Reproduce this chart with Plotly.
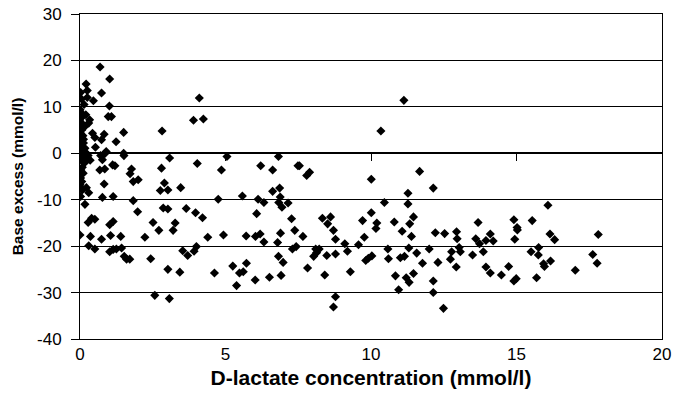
import plotly.graph_objects as go

# D-lactate concentration (mmol/l)
dlactate = [
    0.02, 0.05, 0.14, 0.0, 0.05, 0.08, 0.02, 0.0, 0.1, 0.04, 0.17, 0.06, 0.0, 0.1, 0.04, 0.12, 0.0, 0.17, 0.06, 0.0,
    0.22, 0.1, 0.26, 0.04, 0.17, 0.08, 0.03, 0.11, 0.02, 0.06, 0.0, 0.04, 0.08, 0.02, 0.22, 0.17, 0.0,
    0.21, 0.25, 0.25, 0.2, 0.3, 0.12, 0.28, 0.35, 0.3,
    0.69, 1.02, 0.74, 0.46, 1.01, 0.33, 0.97, 1.08, 1.5, 2.82, 0.43, 0.83, 0.51, 0.74, 1.24, 0.53, 0.90, 1.5,
    0.71, 0.85, 0.77, 1.51, 1.12, 1.2, 0.68, 0.85, 1.77, 1.72, 1.83, 2.0, 2.8, 0.83, 2.76, 0.77, 1.14, 1.83, 1.98, 2.86,
    0.28, 0.40, 0.51, 1.02, 1.14, 2.51, 2.71, 0.36, 0.74, 1.05, 1.40, 2.23, 0.30, 0.51, 1.02, 1.14, 1.25, 1.43, 1.52, 1.6,
    1.71, 2.43, 2.57,
    4.10, 3.90, 4.24, 3.08, 4.03, 5.05, 4.86, 6.21, 6.62, 6.82, 7.49, 2.9, 3.02, 3.46, 4.75, 5.58, 6.12, 6.32, 6.62, 6.86,
    6.88, 6.83, 6.94, 7.15, 3.02, 3.65, 3.97, 4.21, 3.27, 3.20, 6.07, 7.27, 7.38, 4.39, 4.93, 5.71, 6.03, 6.19, 6.32, 6.79,
    6.89, 7.30, 7.43, 3.53, 3.70, 3.92, 4.0, 3.02, 3.43, 4.62, 5.25, 5.48, 5.61, 5.72, 5.38, 6.02, 6.51, 6.82, 6.98, 6.91,
    3.07,
    11.13, 10.34, 7.54, 7.79, 7.89, 10.01, 11.67, 7.66, 8.33, 8.61, 8.51, 8.71, 8.78, 9.10, 9.19, 9.57, 9.77, 9.71, 10.01,
    10.20, 10.17, 10.46, 8.10, 8.22, 8.03, 8.13, 8.48, 8.78, 7.82, 8.41, 9.29, 8.78, 8.71, 9.82, 9.91, 10.03, 10.58, 10.60,
    10.80, 11.07, 11.27, 11.27, 11.46, 11.33, 11.39, 11.30, 11.01, 11.15, 11.57, 11.77, 10.84, 10.95, 11.21, 11.31, 11.46,
    12.14, 12.21, 12.53, 12.0, 12.30, 12.14, 12.14, 12.49, 12.73, 12.77, 12.93, 12.94, 12.96, 13.03, 13.07, 13.49, 13.68,
    13.60, 13.73, 13.86, 13.95, 14.10, 14.20, 13.95, 14.10, 14.48, 14.73, 14.91, 15.02, 15.03, 14.94, 14.91, 14.99, 15.54,
    16.08, 16.15, 16.31, 15.50, 15.76, 15.75, 15.93, 15.96, 16.17, 15.69,
    17.81, 17.62, 17.77, 17.02,
]

# Base excess (mmol/l)
base_excess = [
    13.1, 11.7, 10.5, 9.4, 8.7, 8.0, 7.5, 6.9, 6.2, 5.8, 5.8, 5.0, 4.4, 3.8, 2.9, 2.2, 1.5, 1.1, 0.8, 0.0,
    0.0, -0.5, -1.0, -1.5, -2.0, -3.0, -3.6, -4.3, -5.3, -6.1, -6.8, -7.5, -7.9, -9.3, -7.4, -11.0, -17.6,
    14.9, 13.5, 12.0, 8.3, 6.5, 3.0, -0.5, -1.5, -8.5,
    18.6, 16.0, 13.0, 11.3, 10.2, 7.2, 7.9, 7.9, 4.5, 4.8, 4.3, 4.1, 3.4, 2.9, 2.5, 1.3, 0.4, 0.0,
    -0.5, -0.1, -1.4, -0.5, -2.5, -2.7, -3.6, -3.4, -3.4, -4.4, -6.1, -5.7, -3.2, -6.6, -8.0, -9.5, -9.3, -10.2, -12.6, -11.8,
    -14.9, -14.0, -14.2, -15.4, -14.7, -14.9, -16.6, -17.9, -18.5, -17.7, -17.9, -18.1, -19.9, -20.6, -21.2, -20.7, -20.6, -20.4, -22.2, -22.8,
    -22.8, -22.7, -30.6,
    11.9, 7.1, 7.4, -1.0, -2.2, -0.7, -3.6, -2.7, -3.6, -0.7, -2.7, -6.4, -7.9, -7.4, -9.9, -9.2, -9.9, -10.6, -8.2, -7.5,
    -9.4, -10.6, -11.6, -10.7, -12.0, -11.9, -12.8, -13.9, -15.0, -16.6, -13.0, -14.1, -16.6, -18.1, -17.6, -17.8, -17.9, -17.4, -19.1, -19.2,
    -17.2, -20.6, -20.1, -21.0, -22.0, -21.1, -20.1, -25.0, -25.6, -25.8, -24.3, -25.8, -25.5, -23.7, -28.5, -27.3, -26.7, -22.2, -23.5, -26.3,
    -31.3,
    11.4, 4.8, -2.7, -4.8, -4.1, -5.6, -3.9, -17.9, -14.0, -13.7, -15.2, -16.6, -18.5, -19.5, -21.1, -19.7, -18.1, -14.5, -12.8,
    -15.0, -16.2, -10.6, -20.6, -20.6, -22.2, -21.4, -22.0, -21.7, -24.7, -26.2, -25.5, -30.9, -33.1, -23.1, -22.6, -22.1, -20.6, -22.7,
    -14.8, -16.8, -8.6, -10.9, -13.7, -15.2, -17.9, -20.4, -22.5, -22.2, -21.5, -23.7, -26.4, -29.4, -26.8, -27.8, -25.9,
    -7.5, -17.1, -17.3, -20.6, -23.5, -27.5, -30.0, -33.4, -22.8, -21.2, -24.5, -16.9, -18.4, -20.3, -21.2, -21.9, -14.9,
    -18.4, -19.5, -21.2, -18.8, -17.4, -18.9, -24.5, -25.8, -26.2, -24.4, -14.3, -16.0, -16.5, -18.5, -27.5, -27.0, -14.5,
    -11.2, -17.4, -18.6, -21.2, -20.3, -21.9, -23.8, -24.4, -23.2, -26.8,
    -17.5, -21.8, -23.7, -25.2,
]

x_ticks = [0, 5, 10, 15, 20]
x_tick_labels = ["0", "5", "10", "15", "20"]
y_ticks = [-40, -30, -20, -10, 0, 10, 20, 30]
y_tick_labels = ["-40", "-30", "-20", "-10", "0", "10", "20", "30"]

FONT = "Liberation Sans, Arial, sans-serif"

fig = go.Figure()
fig.add_trace(go.Scatter(
    x=dlactate, y=base_excess, mode="markers",
    marker=dict(symbol="diamond", size=7, color="black", line=dict(width=0)),
    showlegend=False, hoverinfo="skip",
))
# helper (empty) trace for the tick marks drawn on the y = 0 line
fig.add_trace(go.Scatter(x=[None], y=[None], xaxis="x2", showlegend=False, hoverinfo="skip"))

fig.update_layout(
    width=674, height=393,
    margin=dict(l=80, r=12, t=14, b=54),
    paper_bgcolor="white", plot_bgcolor="white",
    font=dict(family=FONT, color="black"),
    xaxis=dict(
        range=[0, 20], tickvals=x_ticks, ticktext=x_tick_labels, ticks="", showgrid=False, zeroline=False,
        showline=True, linecolor="black", linewidth=1, mirror=True, automargin=False,
        tickfont=dict(size=17), ticklabelstandoff=0,
        title=dict(text="<b>D-lactate concentration (mmol/l)</b>", font=dict(size=21), standoff=6),
    ),
    xaxis2=dict(
        overlaying="x", anchor="free", position=40 / 70, side="bottom",
        range=[0, 20], tickvals=x_ticks, ticks="outside", ticklen=7, tickcolor="black", tickwidth=1,
        showticklabels=False, showgrid=False, zeroline=False, showline=False, automargin=False,
    ),
    yaxis=dict(
        range=[-40, 30], tickvals=y_ticks, ticktext=y_tick_labels, ticks="outside", ticklen=8, tickcolor="black",
        showgrid=True, gridcolor="black", gridwidth=1, zeroline=True, zerolinecolor="black",
        showline=True, linecolor="black", linewidth=1, mirror=True, automargin=False,
        tickfont=dict(size=17), ticklabelstandoff=6,
        title=dict(text="<b>Base excess (mmol/l)</b>", font=dict(size=15.5), standoff=9),
    ),
)

# remove the browser's default 8px page margin so the figure sits at the window origin
fig.write_html(
    "out.html",
    config={"displayModeBar": False},
    post_script="document.body.style.margin='0';",
)
